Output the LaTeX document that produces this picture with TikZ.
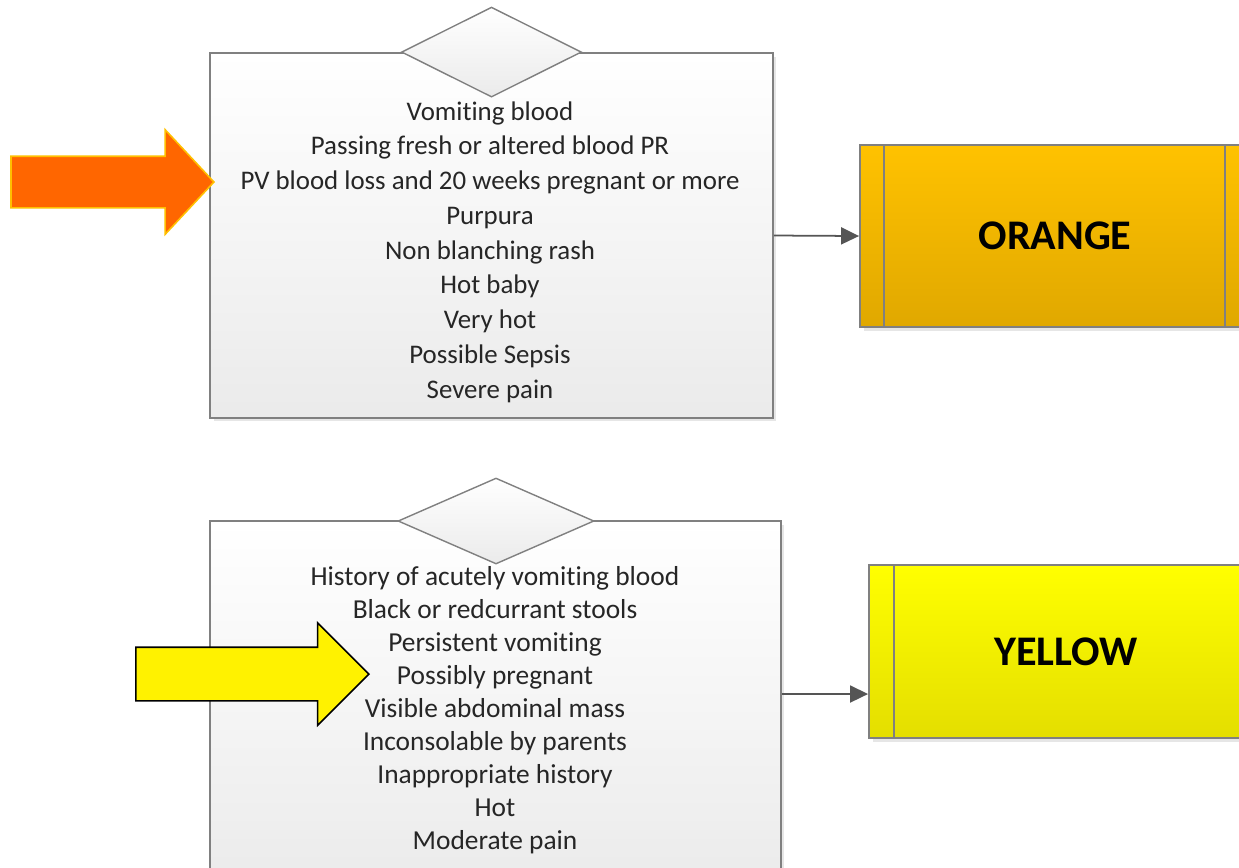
\documentclass[tikz,border=0pt]{standalone}
\usepackage{fontspec}
\setmainfont{Carlito}[Ligatures=NoCommon]
\usetikzlibrary{positioning,shapes.geometric,shapes.arrows,arrows.meta,shadows}

\definecolor{boxline}{RGB}{128,128,128}
\definecolor{linkgray}{RGB}{85,85,85}
\definecolor{orangetop}{RGB}{255,194,0}
\definecolor{orangebot}{RGB}{224,168,0}
\definecolor{yellowtop}{RGB}{255,255,0}
\definecolor{yellowbot}{RGB}{228,222,0}
\definecolor{arroworange}{RGB}{255,102,0}
\definecolor{arrowrim}{RGB}{255,192,0}

\begin{document}
\begin{tikzpicture} [
                x=0.02cm, y=-0.02cm,
                critbox/.style={
                    rectangle,
                    draw=boxline,
                    line width=1.1pt,
                    top color=white,
                    bottom color=black!8,
                    drop shadow={opacity=0.2, shadow xshift=2pt, shadow yshift=-2pt}
                },
                decision/.style={
                    diamond,
                    draw=boxline,
                    line width=0.8pt,
                    inner sep=0pt,
                    top color=white,
                    bottom color=black!8
                },
                listtext/.style={
                    align=center,
                    inner sep=0pt,
                    text=black!85
                },
                colourbox/.style={
                    rectangle,
                    draw=boxline,
                    line width=1.1pt,
                    font=\fontsize{24}{28}\selectfont\bfseries,
                    drop shadow={opacity=0.2, shadow xshift=2pt, shadow yshift=-2pt}
                },
                blockarrow/.style={
                    single arrow,
                    single arrow head indent=0pt,
                    inner xsep=0pt,
                    line width=0.9pt,
                    anchor=tip
                },
                flowline/.style={
                    draw=linkgray,
                    line width=1pt,
                    -{Triangle[length=0.36cm,width=0.34cm]}
                }
            ]

                \useasboundingbox (0,0) rectangle (1239,867);

                % orange level
                \node[critbox, minimum width=11.26cm, minimum height=7.3cm]     (topbox)        at (491.5,235.5)    {};
                \node[decision, minimum width=3.6cm, minimum height=1.8cm]      (topdiamond)    at (topbox.north)   {};
                \node[listtext, font=\fontsize{15.3}{19.8}\selectfont]          (toplist)       at (490,252)        {Vomiting blood\\Passing fresh or altered blood PR\\PV blood loss and 20 weeks pregnant or more\\Purpura\\Non blanching rash\\Hot baby\\Very hot\\Possible Sepsis\\Severe pain};
                \node[colourbox, top color=orangetop, bottom color=orangebot, minimum width=7.8cm, minimum height=3.64cm] (orangebox) at (1055,236) {ORANGE};
                \draw[boxline, line width=1.1pt] ([xshift=0.5cm]orangebox.north west) -- ([xshift=0.5cm]orangebox.south west);
                \draw[boxline, line width=1.1pt] ([xshift=-0.52cm]orangebox.north east) -- ([xshift=-0.52cm]orangebox.south east);
                \draw[flowline] (topbox.east) -- (orangebox.west);
                \node[blockarrow, fill=arroworange, draw=arrowrim, inner ysep=0.5cm, single arrow head extend=0.53cm, single arrow tip angle=94, minimum height=4.06cm] (orangeflag) at (215,182) {};

                % yellow level
                \node[critbox, minimum width=11.42cm, minimum height=7.4cm]     (botbox)        at (495.5,706)      {};
                \node[decision, minimum width=3.92cm, minimum height=1.72cm]    (botdiamond)    at (496,521)        {};
                \node[listtext, font=\fontsize{15.6}{18.8}\selectfont]          (botlist)       at (495,710)        {History of acutely vomiting blood\\Black or redcurrant stools\\Persistent vomiting\\Possibly pregnant\\Visible abdominal mass\\Inconsolable by parents\\Inappropriate history\\Hot\\Moderate pain};
                \node[colourbox, top color=yellowtop, bottom color=yellowbot, minimum width=7.88cm, minimum height=3.46cm] (yellowbox) at (1066,651.5) {YELLOW};
                \draw[boxline, line width=1.1pt] ([xshift=0.52cm]yellowbox.north west) -- ([xshift=0.52cm]yellowbox.south west);
                \coordinate (ylevel) at (0,694);
                \draw[flowline] (botbox.east |- ylevel) -- (yellowbox.west |- ylevel);
                \node[blockarrow, fill=yellow, draw=black, inner ysep=0.52cm, single arrow head extend=0.49cm, single arrow tip angle=90, minimum height=4.66cm] (yellowflag) at (370,674) {};

            \end{tikzpicture}
\end{document}
